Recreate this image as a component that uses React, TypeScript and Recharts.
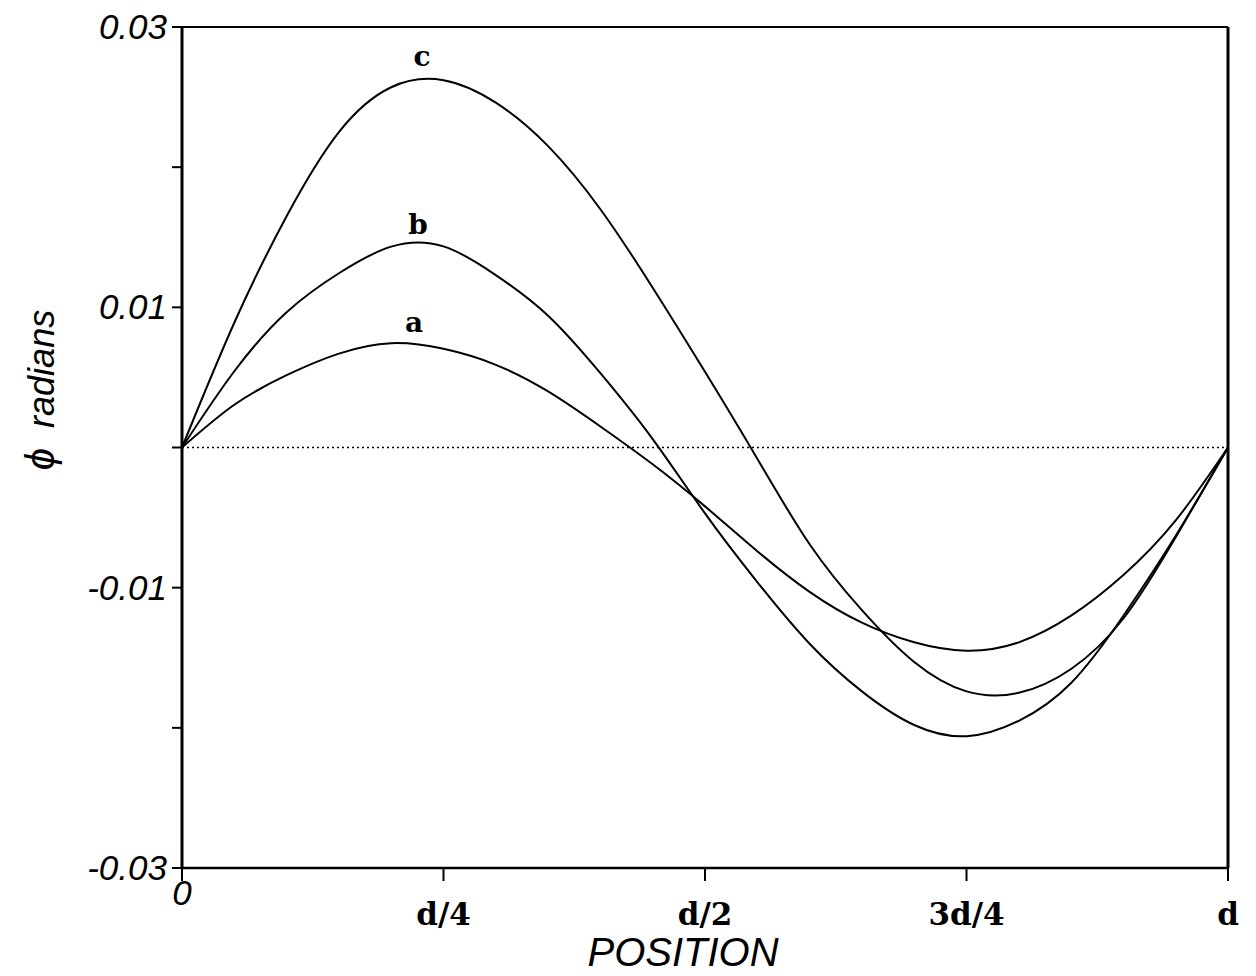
import React from 'react';
import { LineChart, Line, XAxis, YAxis, ReferenceLine, ReferenceDot } from 'recharts';

const positions = [0, 0.05, 0.1, 0.15, 0.2, 0.25, 0.3, 0.35, 0.4, 0.45, 0.5, 0.55, 0.6, 0.65, 0.7, 0.75, 0.8, 0.85, 0.9, 0.95, 1];
const curveA = [0, 0.00305, 0.00516, 0.0067, 0.00744, 0.00704, 0.0059, 0.004, 0.0015, -0.0012, -0.0042, -0.0074, -0.0103, -0.0125, -0.0139, -0.0145, -0.0139, -0.012, -0.0091, -0.0052, 0];
const curveB = [0, 0.00544, 0.00965, 0.01243, 0.01433, 0.01435, 0.0123, 0.0094, 0.0053, 0.0006, -0.0047, -0.0096, -0.014, -0.0174, -0.0198, -0.0206, -0.0195, -0.0168, -0.012, -0.0063, 0];
const curveC = [0, 0.0089, 0.0165, 0.0225, 0.0257, 0.0262, 0.0246, 0.0215, 0.017, 0.0114, 0.0054, -0.0008, -0.0069, -0.0116, -0.0153, -0.0174, -0.0175, -0.0158, -0.0122, -0.0064, 0];

const xTickValues = [0, 0.25, 0.5, 0.75, 1];
const xTickLabels = ['0', 'd/4', 'd/2', '3d/4', 'd'];
const yTickValues = [-0.03, -0.02, -0.01, 0, 0.01, 0.02, 0.03];
const yTickLabels = ['-0.03', '', '-0.01', '', '0.01', '', '0.03'];

const curveNames = ['a', 'b', 'c'];
const curveLabelX = [0.2218, 0.2256, 0.2294];
const curveLabelY = [0.00824, 0.01523, 0.02722];

const data = positions.map((p, i) => ({ x: p, a: curveA[i], b: curveB[i], c: curveC[i] }));

const SANS = '"Liberation Sans", Arial, Helvetica, sans-serif';
const SERIF = '"DejaVu Serif", "Liberation Serif", serif';

const XTick = (props: any) => {
  const { x, y, payload } = props;
  const idx = xTickValues.indexOf(payload.value);
  const label = idx >= 0 ? xTickLabels[idx] : '';
  if (label === '0') {
    return (
      <text x={x} y={y + 22} textAnchor="middle" fontFamily={SANS} fontStyle="italic" fontSize={35} fill="#000">
        {label}
      </text>
    );
  }
  return (
    <text x={x} y={y + 42} textAnchor="middle" fontFamily={SERIF} fontWeight="bold" fontSize={31} fill="#000">
      {label}
    </text>
  );
};

const YTick = (props: any) => {
  const { x, y, payload } = props;
  const idx = yTickValues.indexOf(payload.value);
  const label = idx >= 0 ? yTickLabels[idx] : '';
  if (!label) return <g />;
  return (
    <text x={x} y={y + 12} textAnchor="end" fontFamily={SANS} fontStyle="italic" fontSize={35} fill="#000">
      {label}
    </text>
  );
};

const XTitle = (props: any) => {
  const vb = props.viewBox || { x: 182, y: 868, width: 1046, height: 60 };
  return (
    <text x={vb.x + vb.width * 0.479} y={vb.y + 98} textAnchor="middle" fontFamily={SANS} fontStyle="italic" fontSize={40} fill="#000">
      POSITION
    </text>
  );
};

const YTitle = (props: any) => {
  const vb = props.viewBox || { x: 102, y: 27, width: 80, height: 841 };
  const cx = vb.x - 48;
  const cy = vb.y + 363;
  return (
    <text x={cx} y={cy} transform={`rotate(-90, ${cx}, ${cy})`} textAnchor="middle" fontFamily={SANS} fontStyle="italic" fontSize={36} fill="#000">
      <tspan fontSize={40}>ϕ</tspan>
      <tspan dx={20}>radians</tspan>
    </text>
  );
};

const makeLetter = (letter: string) => (p: any) => (
  <text x={p.cx} y={p.cy} textAnchor="middle" fontFamily={SERIF} fontWeight="bold" fontSize={28} fill="#000">
    {letter}
  </text>
);

export default function App() {
  return (
    <div style={{ position: 'absolute', left: 0, top: 0, width: 1256, height: 976, background: '#fff' }}>
      <LineChart width={1256} height={976} data={data} margin={{ top: 27, right: 28, bottom: 48, left: 102 }}>
        <XAxis
          dataKey="x"
          type="number"
          domain={[0, 1]}
          ticks={xTickValues}
          interval={0}
          height={60}
          tickSize={13}
          tick={<XTick />}
          axisLine={{ stroke: '#000', strokeWidth: 2.5 }}
          tickLine={{ stroke: '#000', strokeWidth: 2 }}
          label={(p: any) => <XTitle {...p} />}
        />
        <YAxis
          type="number"
          domain={[-0.03, 0.03]}
          ticks={yTickValues}
          interval={0}
          width={80}
          tickSize={10}
          tickMargin={5}
          tick={<YTick />}
          axisLine={{ stroke: '#000', strokeWidth: 3 }}
          tickLine={{ stroke: '#000', strokeWidth: 2 }}
          label={(p: any) => <YTitle {...p} />}
        />
        <ReferenceLine y={0.03} stroke="#000" strokeWidth={2} />
        <ReferenceLine x={1} stroke="#000" strokeWidth={3} />
        <ReferenceLine y={0} stroke="#000" strokeWidth={1.5} strokeDasharray="2 3" />
        <Line type="natural" dataKey="a" stroke="#000" strokeWidth={2} dot={false} isAnimationActive={false} />
        <Line type="natural" dataKey="b" stroke="#000" strokeWidth={2} dot={false} isAnimationActive={false} />
        <Line type="natural" dataKey="c" stroke="#000" strokeWidth={2} dot={false} isAnimationActive={false} />
        {curveNames.map((n, i) => (
          <ReferenceDot key={n} x={curveLabelX[i]} y={curveLabelY[i]} r={0} shape={makeLetter(n)} />
        ))}
      </LineChart>
    </div>
  );
}
